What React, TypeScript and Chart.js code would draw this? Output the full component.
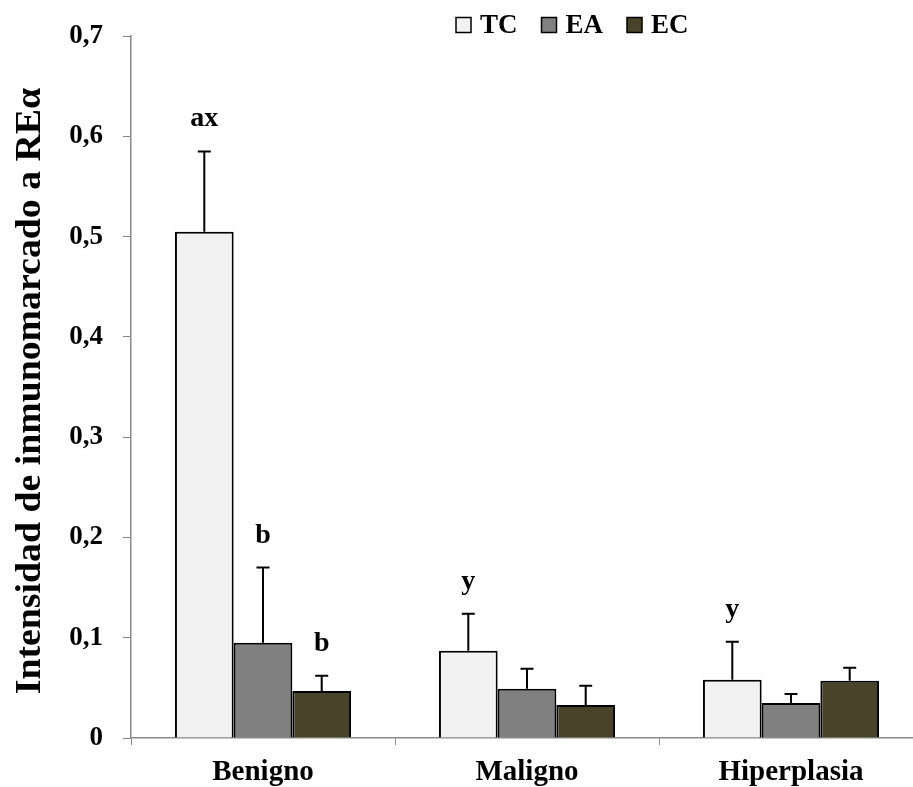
import React, { useEffect, useRef } from "react";
import { Chart, registerables } from "chart.js";

Chart.register(...registerables);

const categories = ["Benigno", "Maligno", "Hiperplasia"];
const seriesNames = ["TC", "EA", "EC"];
const tcValues = [0.505, 0.087, 0.058];
const eaValues = [0.095, 0.049, 0.035];
const ecValues = [0.047, 0.033, 0.057];
const tcErrors = [0.08, 0.037, 0.038];
const eaErrors = [0.075, 0.02, 0.009];
const ecErrors = [0.015, 0.019, 0.013];
const tcLetters = ["ax", "y", "y"];
const eaLetters = ["b", "", ""];
const ecLetters = ["b", "", ""];
const yTicks = [0, 0.1, 0.2, 0.3, 0.4, 0.5, 0.6, 0.7];
const yTitle = "Intensidad de inmunomarcado a REα";

const colors = ["#f2f2f2", "#808080", "#494429"];
const FONT = "'Liberation Serif', 'Times New Roman', serif";
const AXIS = "#898989";

const errorBarPlugin = {
  id: "errorBars",
  afterDatasetsDraw(chart: any) {
    const ctx = chart.ctx;
    const yScale = chart.scales.y;
    ctx.save();
    chart.data.datasets.forEach((ds: any, di: number) => {
      const meta = chart.getDatasetMeta(di);
      meta.data.forEach((bar: any, i: number) => {
        const v = ds.data[i];
        const e = ds.errors[i];
        const yTop = yScale.getPixelForValue(v + e);
        ctx.strokeStyle = "#000";
        ctx.lineWidth = 2;
        ctx.beginPath();
        ctx.moveTo(bar.x, bar.y);
        ctx.lineTo(bar.x, yTop);
        ctx.moveTo(bar.x - 6.5, yTop);
        ctx.lineTo(bar.x + 6.5, yTop);
        ctx.stroke();
        const letter = ds.letters[i];
        if (letter) {
          ctx.fillStyle = "#000";
          ctx.font = `bold 28px ${FONT}`;
          ctx.textAlign = "center";
          ctx.textBaseline = "alphabetic";
          ctx.fillText(letter, bar.x, yTop - 25);
        }
      });
    });
    ctx.restore();
  },
};

const titleLegendPlugin = {
  id: "titleLegend",
  afterDraw(chart: any) {
    const ctx = chart.ctx;
    const area = chart.chartArea;
    // y-axis title
    ctx.save();
    ctx.translate(31, (area.top + area.bottom) / 2 + 4);
    ctx.rotate(-Math.PI / 2);
    ctx.scale(1.08, 1);
    ctx.font = `bold 35px ${FONT}`;
    ctx.fillStyle = "#000";
    ctx.textAlign = "center";
    ctx.textBaseline = "middle";
    ctx.fillText(yTitle, 0, 0);
    ctx.restore();

    // legend
    ctx.save();
    ctx.font = `bold 27px ${FONT}`;
    ctx.textBaseline = "middle";
    ctx.textAlign = "left";
    let x = area.left + 325;
    const cy = 25;
    chart.data.datasets.forEach((ds: any) => {
      ctx.fillStyle = ds.backgroundColor;
      ctx.fillRect(x, cy - 7.5, 15, 15);
      ctx.strokeStyle = "#000";
      ctx.lineWidth = 1.5;
      ctx.strokeRect(x, cy - 7.5, 15, 15);
      x += 15 + 9;
      ctx.fillStyle = "#000";
      ctx.fillText(ds.label, x, cy + 1);
      x += ctx.measureText(ds.label).width + 24;
    });
    ctx.restore();
  },
};

export default function App() {
  const ref = useRef<HTMLCanvasElement | null>(null);

  useEffect(() => {
    if (!ref.current) return;
    const values = [tcValues, eaValues, ecValues];
    const errors = [tcErrors, eaErrors, ecErrors];
    const letters = [tcLetters, eaLetters, ecLetters];
    const chart = new Chart(ref.current, {
      type: "bar",
      data: {
        labels: categories,
        datasets: seriesNames.map((name, i) => ({
          label: name,
          data: values[i],
          errors: errors[i],
          letters: letters[i],
          backgroundColor: colors[i],
          borderColor: "#000",
          borderWidth: 2,
          categoryPercentage: 0.667,
          barPercentage: 1.0,
        })) as any,
      },
      options: {
        responsive: false,
        animation: false,
        layout: { padding: { top: 36, left: 0, right: 0, bottom: 0 } },
        plugins: {
          legend: { display: false },
          tooltip: { enabled: false },
        },
        scales: {
          x: {
            offset: true,
            grid: {
              offset: true,
              drawOnChartArea: false,
              drawTicks: true,
              tickLength: 7,
              color: AXIS,
            },
            border: { color: AXIS, width: 1.5 },
            ticks: {
              color: "#000",
              padding: 10,
              font: { family: FONT, size: 29, weight: "bold" },
            },
            afterFit: (s: any) => {
              s.height = 49;
            },
          },
          y: {
            min: 0,
            max: 0.7,
            afterBuildTicks: (s: any) => {
              s.ticks = yTicks.map((v) => ({ value: v }));
            },
            grid: {
              drawOnChartArea: false,
              drawTicks: true,
              tickLength: 8,
              color: AXIS,
            },
            border: { color: AXIS, width: 1.5 },
            ticks: {
              color: "#000",
              padding: 20,
              font: { family: FONT, size: 27, weight: "bold" },
              callback: (v: any) =>
                Number(v) === 0 ? "0" : Number(v).toFixed(1).replace(".", ","),
            },
            afterFit: (s: any) => {
              s.width = 131;
            },
          },
        },
      } as any,
      plugins: [errorBarPlugin, titleLegendPlugin],
    });
    return () => chart.destroy();
  }, []);

  return (
    <div
      style={{
        position: "absolute",
        left: 0,
        top: 0,
        width: 913,
        height: 787,
        overflow: "hidden",
        background: "#fff",
      }}
    >
      <canvas ref={ref} width={923} height={787} style={{ display: "block" }} />
    </div>
  );
}
